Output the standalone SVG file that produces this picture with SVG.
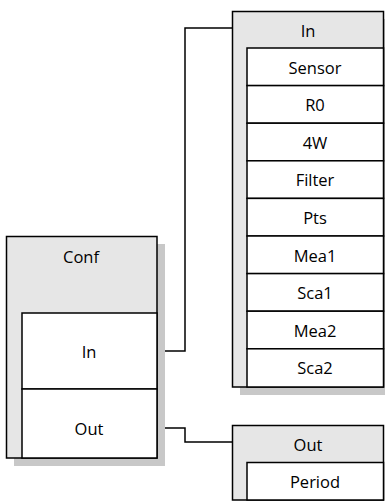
<svg xmlns="http://www.w3.org/2000/svg" width="385" height="502" viewBox="0 0 385 502">
<style>
.shadow{fill:#c8c8c8;stroke:none}
.outer{fill:#e6e6e6;stroke:#000;stroke-width:1.5}
.row{fill:#fff;stroke:#000;stroke-width:1.5}
.t{font-family:"Open Sans","Liberation Sans",sans-serif;font-size:16.5px;fill:#000;text-anchor:middle;dominant-baseline:central}
.conn{fill:none;stroke:#000;stroke-width:1.5}
</style>
<rect width="385" height="502" fill="#fff"/>
<g id="connectors">
<polyline class="conn" points="157,351 185,351 185,28 232,28"/>
<polyline class="conn" points="157,428 185,428 185,442 232,442"/>
</g>
<g id="conf">
<rect class="shadow" x="14" y="244" width="151" height="222"/>
<rect class="outer" x="6.5" y="236.5" width="150.5" height="221.5"/>
<text class="t" x="81" y="256">Conf</text>
<rect class="row" x="22" y="313" width="135" height="76"/>
<text class="t" x="89" y="351">In</text>
<rect class="row" x="22" y="389" width="135" height="69"/>
<text class="t" x="89" y="428">Out</text>
</g>
<g id="in">
<rect class="shadow" x="240" y="19" width="152" height="376"/>
<rect class="outer" x="232.5" y="11.5" width="151" height="375.5"/>
<text class="t" x="308" y="30">In</text>
<rect class="row" x="247" y="48" width="136.5" height="37.6"/>
<text class="t" x="315" y="67">Sensor</text>
<rect class="row" x="247" y="85.6" width="136.5" height="37.6"/>
<text class="t" x="315" y="104.5">R0</text>
<rect class="row" x="247" y="123.2" width="136.5" height="37.6"/>
<text class="t" x="315" y="142">4W</text>
<rect class="row" x="247" y="160.8" width="136.5" height="37.6"/>
<text class="t" x="315" y="179.5">Filter</text>
<rect class="row" x="247" y="198.4" width="136.5" height="37.6"/>
<text class="t" x="315" y="217">Pts</text>
<rect class="row" x="247" y="236" width="136.5" height="37.6"/>
<text class="t" x="315" y="255">Mea1</text>
<rect class="row" x="247" y="273.6" width="136.5" height="37.6"/>
<text class="t" x="315" y="292.5">Sca1</text>
<rect class="row" x="247" y="311.2" width="136.5" height="37.6"/>
<text class="t" x="315" y="330">Mea2</text>
<rect class="row" x="247" y="348.8" width="136.5" height="38.2"/>
<text class="t" x="315" y="367.5">Sca2</text>
</g>
<g id="out">
<rect class="outer" x="232.5" y="425.5" width="151" height="74.5"/>
<text class="t" x="308" y="444">Out</text>
<rect class="row" x="247" y="462.5" width="136.5" height="37.5"/>
<text class="t" x="315" y="481">Period</text>
</g>
</svg>
